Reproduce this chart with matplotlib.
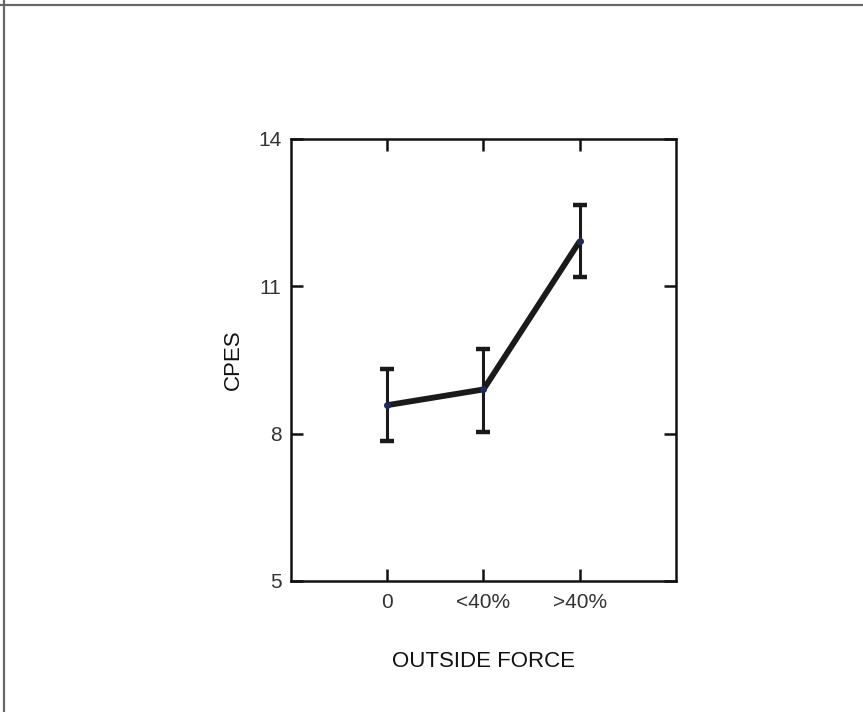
import matplotlib
matplotlib.use("Agg")
import matplotlib.pyplot as plt
from matplotlib.lines import Line2D

categories = ["0", "<40%", ">40%"]
means = [8.58, 8.90, 11.92]
err_low = [0.73, 0.86, 0.74]
err_high = [0.73, 0.82, 0.74]
yticks = [5, 8, 11, 14]

fig = plt.figure(figsize=(8.63, 7.12), dpi=100)
fig.patch.set_facecolor("white")
ax = fig.add_axes([0.3372, 0.1840, 0.4461, 0.6208])

x = [1, 2, 3]
ax.plot(x, means, color="#1a1a1a", lw=4.2, solid_capstyle="butt", zorder=3)
ax.errorbar(x, means, yerr=[err_low, err_high], fmt="none", ecolor="#1a1a1a",
            elinewidth=2.2, capsize=5, capthick=3.2, zorder=2)
ax.plot(x, means, "o", color="#1e2a5a", ms=4, zorder=4)

ax.set_xlim(0, 4)
ax.set_ylim(5, 14)
ax.set_xticks(x)
ax.set_xticklabels(categories)
ax.set_yticks(yticks)
ax.set_yticklabels([str(v) for v in yticks])
for s in ax.spines.values():
    s.set_linewidth(1.8)
    s.set_color("#111111")
ax.tick_params(direction="in", length=8.5, width=1.8, top=True, right=True,
               labelsize=15, colors="#111111", labelcolor="#333333")
ax.tick_params(axis="x", pad=9)
ax.tick_params(axis="y", pad=7)
for lab in ax.get_xticklabels() + ax.get_yticklabels():
    lab.set_fontfamily("Liberation Sans")

ax.set_xlabel("OUTSIDE FORCE", fontsize=16, family="Liberation Sans", labelpad=28, color="#111111")
ax.set_ylabel("CPES", fontsize=16, family="Liberation Sans", labelpad=10, color="#111111")

# figure border (top and left edges)
fig.add_artist(Line2D([0, 1], [1 - 4.5/712, 1 - 4.5/712], transform=fig.transFigure,
                      color="#666666", lw=1.6))
fig.add_artist(Line2D([3.5/863, 3.5/863], [0, 1], transform=fig.transFigure,
                      color="#666666", lw=1.6))

fig.savefig("out.png", dpi=100)
